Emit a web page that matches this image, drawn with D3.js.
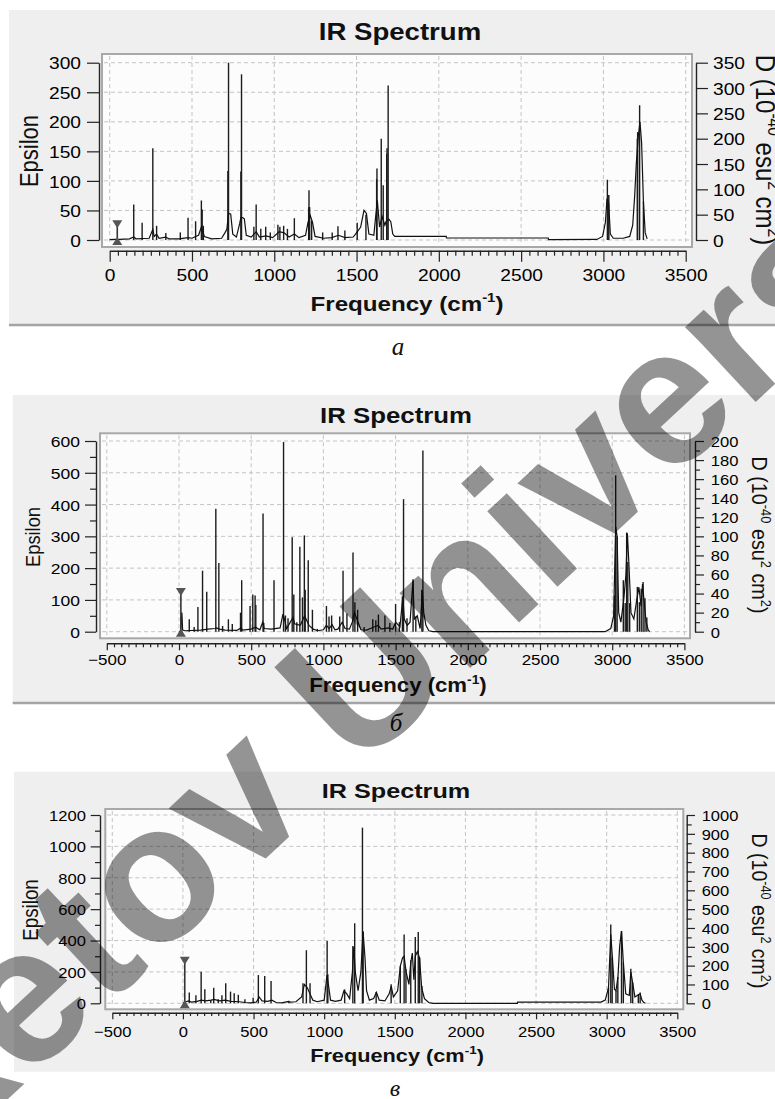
<!DOCTYPE html>
<html>
<head>
<meta charset="utf-8">
<script src="https://cdn.jsdelivr.net/npm/d3@7"></script>
<style>
html, body { margin: 0; padding: 0; background: #fff; }
svg { display: block; }
</style>
</head>
<body>
<svg id="fig" width="775" height="1099"></svg>
<script>
// ---------- data ----------
// tick values
const xTicksA = [0, 500, 1000, 1500, 2000, 2500, 3000, 3500];
const xTicksBC = [-500, 0, 500, 1000, 1500, 2000, 2500, 3000, 3500];
const epsTicksA = [0, 50, 100, 150, 200, 250, 300];
const dTicksA = [0, 50, 100, 150, 200, 250, 300, 350];
const epsTicksB = [0, 100, 200, 300, 400, 500, 600];
const dTicksB = [0, 20, 40, 60, 80, 100, 120, 140, 160, 180, 200];
const epsTicksC = [0, 200, 400, 600, 800, 1000, 1200];
const dTicksC = [0, 100, 200, 300, 400, 500, 600, 700, 800, 900, 1000];

// panel a : sticks [frequency, D], curve [frequency, epsilon], cursor [frequency, epsilon]
const sticksA = [[146,70],[197,34],[262,181],[285,28],[341,14],[429,15],[476,44],[522,37],[557,78],[562,60],[569,28],
  [718,136],[722,350],[797,135],[801,327],[876,26],[890,70],[918,22],[948,26],[976,15],[1022,30],[1034,26],[1057,28],
  [1080,22],[1122,43],[1209,65],[1211,98],[1215,65],[1227,38],[1294,15],[1352,15],[1387,27],[1429,19],[1504,34],
  [1557,50],[1622,120],[1624,141],[1650,200],[1662,108],[1683,170],[1685,181],[1692,305],[3024,119],[3028,89],
  [3033,89],[3206,200],[3208,213],[3220,266],[3243,76]];
const curveA = [[0,0.5],[30,1],[60,1],[120,2],[146,5],[160,2],[240,3],[262,18],[270,6],[285,10],[300,3],[340,5],[360,2],
  [420,2],[476,4],[500,3],[522,6],[540,8],[557,22],[575,6],[620,2],[680,3],[700,12],[712,18],[722,45],[735,44],[748,10],
  [770,5],[790,28],[797,38],[808,38],[818,36],[830,8],[860,5],[890,14],[910,5],[950,7],[990,4],[1030,14],[1060,12],
  [1090,5],[1122,10],[1150,4],[1190,8],[1205,30],[1218,42],[1232,30],[1248,6],[1300,3],[1350,4],[1390,8],[1430,4],
  [1480,5],[1505,14],[1525,22],[1545,50],[1560,45],[1575,10],[1605,8],[1618,45],[1626,67],[1640,22],[1655,40],
  [1672,25],[1680,32],[1697,35],[1708,31],[1720,10],[1732,6],[2045,6],[2046,3.4],[2665,3.4],[2666,0.6],[2960,1],
  [2995,6],[3012,30],[3022,70],[3032,62],[3042,10],[3060,3],[3120,3],[3160,6],[3178,25],[3190,75],[3200,130],
  [3212,175],[3222,200],[3232,165],[3243,65],[3254,12],[3266,2]];
const cursorA = [46, 30];

// panel b
const sticksB = [[71,13],[105,5],[131,26],[163,64],[192,42],[255,129],[276,72],[302,6],[342,13],[369,8],[426,20],
  [434,54],[492,27],[511,39],[527,38],[532,28],[582,124],[587,9],[658,54],[724,199],[737,17],[755,14],[784,99],
  [795,39],[816,10],[837,89],[855,36],[868,101],[874,44],[895,75],[924,23],[958,3],[1021,27],[1039,16],[1057,17],
  [1113,16],[1136,64],[1163,19],[1205,83],[1218,31],[1237,23],[1282,5],[1342,13],[1363,12],[1381,18],[1426,17],
  [1460,9],[1500,29],[1526,10],[1547,37],[1555,139],[1579,14],[1621,55],[1640,16],[1682,44],[1689,190],[3016,38],
  [3024,164],[3034,100],[3077,54],[3090,30],[3100,104],[3108,73],[3121,30],[3174,47],[3188,31],[3201,45],[3214,52],
  [3227,35],[3240,15]];
const curveB = [[0,0],[10,2],[20,60],[25,5],[40,3],[150,5],[200,8],[250,10],[260,12],[280,8],[320,5],[400,4],[430,12],
  [440,5],[500,8],[530,14],[560,6],[580,30],[590,10],[640,8],[700,12],[720,55],[730,40],[745,10],[790,45],[800,25],
  [840,20],[870,50],[880,40],[900,20],[930,8],[960,3],[1000,6],[1020,20],[1040,10],[1060,22],[1080,6],[1100,8],
  [1130,30],[1150,10],[1180,8],[1200,30],[1215,60],[1240,30],[1260,6],[1300,5],[1350,15],[1380,20],[1400,8],
  [1450,12],[1480,8],[1500,30],[1530,15],[1550,110],[1560,40],[1580,20],[1600,30],[1620,160],[1630,40],[1650,50],
  [1670,10],[1685,130],[1695,60],[1710,20],[1730,3],[1760,0],[2950,0],[2990,10],[3010,50],[3024,330],[3034,300],
  [3045,60],[3060,30],[3080,100],[3095,180],[3105,310],[3115,220],[3130,60],[3150,40],[3170,100],[3185,140],
  [3200,80],[3210,150],[3220,100],[3235,30],[3250,5],[3260,0]];
const cursorB = [13, 131];

// panel c
const sticksC = [[45,57],[92,43],[129,167],[155,74],[197,18],[218,83],[250,21],[276,43],[303,106],[337,62],[363,53],
  [392,46],[439,21],[497,30],[534,150],[579,145],[624,118],[750,13],[850,106],[874,282],[900,106],[1021,331],
  [1026,154],[1145,74],[1203,304],[1216,425],[1271,933],[1276,378],[1368,60],[1474,101],[1539,198],[1566,366],
  [1579,181],[1613,228],[1645,352],[1666,378],[1676,243],[1692,92],[3013,83],[3029,419],[3039,243],[3066,66],
  [3079,140],[3105,384],[3118,216],[3171,184],[3184,110],[3224,48],[3237,57]];
const curveC = [[0,0],[20,10],[40,15],[60,8],[100,12],[130,20],[160,15],[200,20],[220,25],[260,15],[300,20],[340,12],
  [400,10],[440,5],[480,3],[520,8],[540,40],[560,15],[600,12],[630,20],[660,5],[700,3],[740,10],[760,8],[800,10],
  [840,40],[860,120],[880,100],[900,60],[920,20],[950,10],[1000,20],[1020,180],[1030,120],[1045,20],[1080,12],
  [1120,20],[1140,80],[1160,60],[1180,30],[1200,200],[1210,360],[1220,200],[1240,80],[1260,200],[1275,460],
  [1289,290],[1300,80],[1320,20],[1350,30],[1370,70],[1390,20],[1430,15],[1460,60],[1475,110],[1490,40],[1520,80],
  [1540,240],[1555,290],[1566,300],[1580,200],[1600,120],[1613,260],[1624,320],[1635,150],[1645,300],[1660,330],
  [1675,290],[1690,100],[1710,30],[1740,5],[1770,0],[2368,0],[2369,8],[2960,8],[2990,20],[3013,100],[3029,440],
  [3040,300],[3055,90],[3066,80],[3080,170],[3092,365],[3105,460],[3118,260],[3135,60],[3160,50],[3171,200],
  [3184,130],[3200,40],[3224,55],[3237,60],[3250,20],[3263,5],[3275,0]];
const cursorC = [13, 284];

// ---------- layout ----------
const SANS = "'Liberation Sans', Arial, sans-serif";
const SX = 1.13;  // the source picture is slightly widened
const fmt = d3.format("d");

const panels = [
  { sticks: sticksA, curve: curveA, cursor: cursorA, xTicks: xTicksA, epsTicks: epsTicksA, dTicks: dTicksA,
    epsMinor: 0, dMinor: 0, caption: "a",
    bg: [9, 10, 775, 325], rule: true, title: [400, 32, 23],
    box: [102, 54, 692, 247], xDomain: [0, 3500], xRange: [109.7, 685.7], yRange: [240, 62.7],
    left: { x: 99, major: 12, minor: 6, end: 81, size: 17 },
    right: { x: 696, major: 12, minor: 6, start: 713, size: 17 },
    bottom: { y: 250.7, major: 11, minor: 5, mid: 275, size: 17 },
    xLabel: [407, 303, 21], yLabel: [29, 151, 22], dLabel: [766, 150, 24], cap: [398, 355, 25] },
  { sticks: sticksB, curve: curveB, cursor: cursorB, xTicks: xTicksBC, epsTicks: epsTicksB, dTicks: dTicksB,
    epsMinor: 50, dMinor: 10, caption: "б",
    bg: [12.7, 395, 775, 703], rule: true, title: [396, 415, 21.5],
    box: [100, 433.3, 690, 638.3], xDomain: [-500, 3500], xRange: [106.8, 684.4], yRange: [631.7, 441],
    left: { x: 96, major: 11, minor: 6, end: 80, size: 15.5 },
    right: { x: 695, major: 9, minor: 5, start: 710.7, size: 14.7 },
    bottom: { y: 643.3, major: 7, minor: 4, mid: 660, size: 15 },
    xLabel: [398, 685, 19.3], yLabel: [33, 537, 18.3], dLabel: [760, 535, 19.8], cap: [396, 731, 25] },
  { sticks: sticksC, curve: curveC, cursor: cursorC, xTicks: xTicksBC, epsTicks: epsTicksC, dTicks: dTicksC,
    epsMinor: 100, dMinor: 50, caption: "в",
    bg: [14, 771.7, 775, 1071.7], rule: false, title: [396, 790.7, 21],
    box: [105.3, 809, 683.3, 1009.3], xDomain: [-500, 3500], xRange: [112.3, 677.3], yRange: [1003.3, 815],
    left: { x: 100, major: 9.3, minor: 5, end: 86, size: 14.7 },
    right: { x: 686.7, major: 8.3, minor: 5, start: 701.7, size: 14.6 },
    bottom: { y: 1012.7, major: 6.6, minor: 3.3, mid: 1031.7, size: 14.7 },
    xLabel: [397, 1055, 18.9], yLabel: [30, 910, 18.8], dLabel: [760, 911, 19.5], cap: [395, 1096, 24] }
];

const svg = d3.select("#fig");

// put a label at (x,y), widened like the source and optionally rotated
function place(sel, x, y, sx, rot) {
  sel.attr("transform", `translate(${x},${y}) scale(${sx},1)` + (rot ? ` rotate(${rot})` : ""));
}

function styleAxis(ax, hideText) {
  ax.attr("font-family", SANS).attr("fill", "#222");
  ax.select(".domain").attr("stroke", "#222").attr("stroke-width", 1.4);
  ax.selectAll(".tick line").attr("stroke", "#222").attr("stroke-width", 1.2);
  if (hideText) ax.selectAll(".tick text").remove();
}

function drawPanel(p) {
  const g = svg.append("g");
  g.append("rect")
    .attr("x", p.bg[0]).attr("y", p.bg[1])
    .attr("width", p.bg[2] - p.bg[0]).attr("height", p.bg[3] - p.bg[1])
    .attr("fill", "#efefef");
  if (p.rule) {
    g.append("line").attr("x1", p.bg[0]).attr("x2", p.bg[2])
      .attr("y1", p.bg[3]).attr("y2", p.bg[3])
      .attr("stroke", "#a4a4a4").attr("stroke-width", 2.5);
  }

  const x = d3.scaleLinear().domain(p.xDomain).range(p.xRange);
  const yL = d3.scaleLinear().domain([0, d3.max(p.epsTicks)]).range(p.yRange);
  const yR = d3.scaleLinear().domain([0, d3.max(p.dTicks)]).range(p.yRange);

  // plot frame
  g.append("rect")
    .attr("x", p.box[0]).attr("y", p.box[1])
    .attr("width", p.box[2] - p.box[0]).attr("height", p.box[3] - p.box[1])
    .attr("fill", "#fcfcfc").attr("stroke", "#a8a8a8").attr("stroke-width", 2);

  // dashed grid
  const grid = g.append("g").attr("stroke", "#c4c4c4").attr("stroke-width", 1).attr("stroke-dasharray", "4,3");
  grid.selectAll(".gx").data(p.xTicks).join("line").attr("class", "gx")
    .attr("x1", d => x(d)).attr("x2", d => x(d))
    .attr("y1", p.box[1] + 2).attr("y2", p.box[3] - 2);
  grid.selectAll(".gy").data(p.epsTicks).join("line").attr("class", "gy")
    .attr("x1", p.box[0] + 2).attr("x2", p.box[2] - 2)
    .attr("y1", d => yL(d)).attr("y2", d => yL(d));

  // sticks (right axis units)
  g.append("g").selectAll("line").data(p.sticks).join("line")
    .attr("x1", d => x(d[0])).attr("x2", d => x(d[0]))
    .attr("y1", yR(0)).attr("y2", d => yR(d[1]))
    .attr("stroke", "#1c1c1c").attr("stroke-width", 1.4);

  // broadened spectrum (left axis units)
  const line = d3.line().x(d => x(d[0])).y(d => yL(d[1]));
  g.append("path").datum(p.curve).attr("d", line)
    .attr("fill", "none").attr("stroke", "#111").attr("stroke-width", 1.2);

  // cursor with triangles
  const cx = x(p.cursor[0]), cTop = yL(p.cursor[1]), cBot = yL(0) + 3;
  g.append("line").attr("x1", cx).attr("x2", cx).attr("y1", cTop).attr("y2", cBot)
    .attr("stroke", "#333").attr("stroke-width", 1.6);
  g.append("path").attr("d", `M${cx - 5},${cTop - 2}L${cx + 5},${cTop - 2}L${cx},${cTop + 6}Z`).attr("fill", "#555");
  g.append("path").attr("d", `M${cx - 5},${cBot + 2}L${cx + 5},${cBot + 2}L${cx},${cBot - 6}Z`).attr("fill", "#555");

  // left axis
  const la = g.append("g").attr("transform", `translate(${p.left.x},0)`)
    .call(d3.axisLeft(yL).tickValues(p.epsTicks).tickFormat(fmt).tickSize(p.left.major).tickSizeOuter(0));
  styleAxis(la, false);
  la.selectAll(".tick text").attr("x", null).attr("dy", "0.36em")
    .attr("font-size", p.left.size).attr("text-anchor", "end")
    .call(place, p.left.end - p.left.x, 0, SX);
  if (p.epsMinor) {
    const lm = g.append("g").attr("transform", `translate(${p.left.x},0)`)
      .call(d3.axisLeft(yL).tickValues(d3.range(0, d3.max(p.epsTicks), p.epsMinor).filter(v => !p.epsTicks.includes(v)))
        .tickSize(p.left.minor).tickFormat(""));
    styleAxis(lm, true);
    lm.select(".domain").remove();
  }

  // right axis
  const ra = g.append("g").attr("transform", `translate(${p.right.x},0)`)
    .call(d3.axisRight(yR).tickValues(p.dTicks).tickFormat(fmt).tickSize(p.right.major).tickSizeOuter(0));
  styleAxis(ra, false);
  ra.selectAll(".tick text").attr("x", null).attr("dy", "0.36em")
    .attr("font-size", p.right.size).attr("text-anchor", "start")
    .call(place, p.right.start - p.right.x, 0, SX);
  if (p.dMinor) {
    const rm = g.append("g").attr("transform", `translate(${p.right.x},0)`)
      .call(d3.axisRight(yR).tickValues(d3.range(0, d3.max(p.dTicks), p.dMinor).filter(v => !p.dTicks.includes(v)))
        .tickSize(p.right.minor).tickFormat(""));
    styleAxis(rm, true);
    rm.select(".domain").remove();
  }

  // bottom axis
  const ba = g.append("g").attr("transform", `translate(0,${p.bottom.y})`)
    .call(d3.axisBottom(x).tickValues(p.xTicks).tickFormat(fmt).tickSize(p.bottom.major).tickSizeOuter(0));
  styleAxis(ba, false);
  ba.selectAll(".tick text").attr("y", null).attr("dy", "0.36em")
    .attr("font-size", p.bottom.size).attr("text-anchor", "middle")
    .call(place, 0, p.bottom.mid - p.bottom.y, SX);
  const bm = g.append("g").attr("transform", `translate(0,${p.bottom.y})`)
    .call(d3.axisBottom(x).tickValues(d3.range(p.xDomain[0], p.xDomain[1], 50).filter(v => v % 500 !== 0))
      .tickSize(p.bottom.minor).tickFormat(""));
  styleAxis(bm, true);
  bm.select(".domain").remove();

  // title
  g.append("text").text("IR Spectrum")
    .attr("font-family", SANS).attr("font-weight", "bold").attr("font-size", p.title[2])
    .attr("fill", "#111").attr("text-anchor", "middle").attr("dy", "0.36em")
    .call(place, p.title[0], p.title[1], 1.2);

  // x label
  const xl = g.append("text")
    .attr("font-family", SANS).attr("font-weight", "bold").attr("font-size", p.xLabel[2])
    .attr("fill", "#111").attr("text-anchor", "middle").attr("dy", "0.36em")
    .call(place, p.xLabel[0], p.xLabel[1], 1.15);
  const xs = p.xLabel[2];
  xl.append("tspan").text("Frequency (cm");
  xl.append("tspan").attr("dy", -0.42 * xs).attr("font-size", xs * 0.62).text("-1");
  xl.append("tspan").attr("dy", 0.42 * xs).text(")");

  // left label
  g.append("text").text("Epsilon")
    .attr("font-family", SANS).attr("font-size", p.yLabel[2]).attr("fill", "#111")
    .attr("text-anchor", "middle").attr("dy", "0.36em")
    .call(place, p.yLabel[0], p.yLabel[1], SX, -90);

  // right label
  const ds = p.dLabel[2];
  const dl = g.append("text")
    .attr("font-family", SANS).attr("font-size", ds).attr("fill", "#111")
    .attr("text-anchor", "middle").attr("dy", "0.36em")
    .call(place, p.dLabel[0], p.dLabel[1], SX, 90);
  [["D (10", 0], ["-40", 1], [" esu", -1], ["2", 1], [" cm", -1], ["2", 1], [")", -1]].forEach(([t, s]) => {
    const ts = dl.append("tspan").text(t);
    if (s === 1) ts.attr("dy", -0.42 * ds).attr("font-size", ds * 0.65);
    if (s === -1) ts.attr("dy", 0.42 * ds);
  });

  // caption under the panel
  svg.append("text").text(p.caption)
    .attr("x", p.cap[0]).attr("y", p.cap[1])
    .attr("font-family", "'Liberation Serif', 'Times New Roman', serif")
    .attr("font-style", "italic").attr("font-size", p.cap[2]).attr("fill", "#111")
    .attr("text-anchor", "middle");
}

panels.forEach(drawPanel);

// watermark laid over the page
svg.append("text").text("Buketov University")
  .attr("font-family", SANS).attr("font-weight", "bold").attr("font-size", 195)
  .attr("fill", "#000").attr("fill-opacity", 0.42)
  .attr("transform", "translate(-245,1335) rotate(-43)");
</script>
</body>
</html>
